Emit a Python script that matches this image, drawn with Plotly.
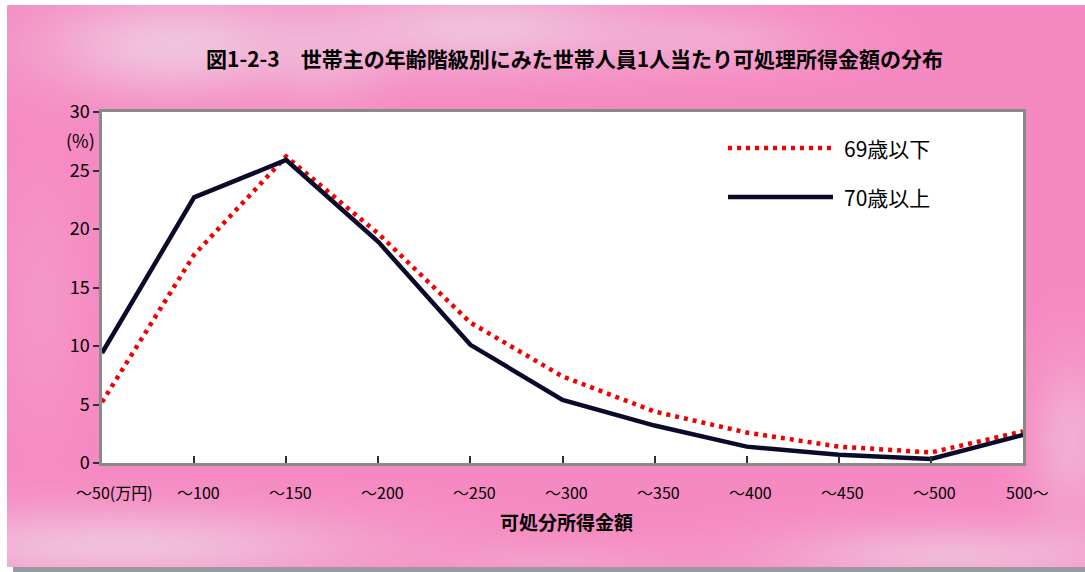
import base64
import struct
import zlib

import numpy as np
import plotly.graph_objects as go

# ---- data -------------------------------------------------------------
categories = ["～50(万円)", "～100", "～150", "～200", "～250", "～300",
              "～350", "～400", "～450", "～500", "500～"]
under69 = [5.2, 17.8, 26.2, 19.6, 12.0, 7.4, 4.4, 2.6, 1.4, 0.9, 2.7]
over70 = [9.4, 22.7, 25.9, 18.9, 10.1, 5.4, 3.2, 1.4, 0.7, 0.35, 2.4]
series_names = ["69歳以下", "70歳以上"]
y_ticks = [0, 5, 10, 15, 20, 25, 30]

title_text = "図1-2-3　世帯主の年齢階級別にみた世帯人員1人当たり可処理所得金額の分布"
x_title = "可処分所得金額"
y_unit = "(%)"

# ---- layout geometry (pixels) -----------------------------------------
W, H = 1085, 572
L, R, T, B = 102, 1023, 112, 463
PW, PH = R - L, B - T
FONT = "Noto Sans CJK JP"


def px_x(p):
    return (p - L) / PW


def px_y(p):
    return (B - p) / PH


# ---- pink backdrop as a smooth gradient image --------------------------
BG_X0, BG_Y0, BG_X1, BG_Y1 = 7, 5, 1085, 567
sc = 2
bw, bh = (BG_X1 - BG_X0) // sc, (BG_Y1 - BG_Y0) // sc
gx, gy = np.meshgrid(np.arange(bw) * sc + BG_X0, np.arange(bh) * sc + BG_Y0)
light = np.zeros((bh, bw))
for cx, cy, rx, ry, s in [
    (170, 45, 130, 50, 0.85), (480, 28, 160, 42, 0.8), (720, 40, 110, 30, 0.4),
    (330, 70, 60, 40, 0.25), (120, 545, 250, 38, 0.8), (950, 555, 180, 32, 0.7),
    (1070, 440, 40, 80, 0.55), (560, 560, 120, 20, 0.25), (40, 300, 40, 120, 0.2),
]:
    light += s * np.exp(-(((gx - cx) / rx) ** 2 + ((gy - cy) / ry) ** 2))
light = np.clip(light, 0, 1)[..., None]
hot = np.array([246, 138, 194], float)
pale = np.array([240, 205, 226], float)
rgb = (hot * (1 - light) + pale * light).astype(np.uint8)


def png_uri(img):
    h, w, _ = img.shape
    raw = b"".join(b"\x00" + img[i].tobytes() for i in range(h))

    def chunk(tag, data):
        c = struct.pack(">I", len(data)) + tag + data
        return c + struct.pack(">I", zlib.crc32(tag + data) & 0xFFFFFFFF)

    png = (b"\x89PNG\r\n\x1a\n"
           + chunk(b"IHDR", struct.pack(">IIBBBBB", w, h, 8, 2, 0, 0, 0))
           + chunk(b"IDAT", zlib.compress(raw, 9))
           + chunk(b"IEND", b""))
    return "data:image/png;base64," + base64.b64encode(png).decode()


# ---- figure -----------------------------------------------------------
xs = list(range(len(categories)))
red_dash = "4px,5px"
navy = "#0a0a2a"

fig = go.Figure()
fig.add_trace(go.Scatter(
    x=xs, y=under69, mode="lines", name=series_names[0],
    line=dict(color="#f00000", width=4.5, dash=red_dash), showlegend=False))
fig.add_trace(go.Scatter(
    x=xs, y=over70, mode="lines", name=series_names[1],
    line=dict(color=navy, width=4.5), showlegend=False))

shapes = [
    # drop shadow under the panel
    dict(type="rect", xref="paper", yref="paper", layer="below",
         x0=px_x(13), x1=px_x(W + 5), y0=px_y(567), y1=px_y(W),
         fillcolor="#9a9aa0", line_width=0),
    # white plotting area above the backdrop image
    dict(type="rect", xref="x domain", yref="y domain", layer="below",
         x0=0, x1=1, y0=0, y1=1, fillcolor="white", line_width=0),
]

# hand-drawn legend samples
leg_rows = [(148, "#f00000", red_dash), (197, navy, "solid")]
annotations = []
for (yy, col, dash), name in zip(leg_rows, series_names):
    shapes.append(dict(type="line", xref="paper", yref="paper",
                       x0=px_x(728), x1=px_x(833), y0=px_y(yy), y1=px_y(yy),
                       line=dict(color=col, width=4.5, dash=dash)))
    annotations.append(dict(xref="paper", yref="paper", x=px_x(842), y=px_y(yy),
                            text=name, showarrow=False, xanchor="left",
                            yanchor="middle", font=dict(size=21, color="black", family=FONT)))

# category labels beneath the axis
for i, lab in enumerate(categories):
    annotations.append(dict(xref="x", yref="paper", x=i, y=px_y(492), text=lab,
                            showarrow=False, xanchor="center", yanchor="middle",
                            xshift=12 if i == 0 else 4,
                            font=dict(size=16, color="black", family=FONT)))

annotations += [
    dict(xref="paper", yref="paper", x=px_x(574), y=px_y(58), text=title_text,
         showarrow=False, xanchor="center", yanchor="middle",
         font=dict(size=21, color="black", family=FONT, weight="bold")),
    dict(xref="paper", yref="paper", x=px_x(566), y=px_y(521), text=x_title,
         showarrow=False, xanchor="center", yanchor="middle",
         font=dict(size=19, color="black", family=FONT, weight="bold")),
    dict(xref="paper", yref="paper", x=px_x(97), y=px_y(140), text=y_unit,
         showarrow=False, xanchor="right", yanchor="middle",
         font=dict(size=18, color="black", family=FONT)),
]

fig.update_layout(
    width=W, height=H,
    margin=dict(l=L, r=W - R, t=T, b=H - B, pad=0),
    paper_bgcolor="white", plot_bgcolor="rgba(0,0,0,0)",
    font=dict(family=FONT, color="black"),
    shapes=shapes, annotations=annotations,
    images=[dict(source=png_uri(rgb), xref="paper", yref="paper",
                 x=px_x(BG_X0), y=px_y(BG_Y0),
                 sizex=(BG_X1 - BG_X0) / PW, sizey=(BG_Y1 - BG_Y0) / PH,
                 xanchor="left", yanchor="top", sizing="stretch", layer="below")],
    xaxis=dict(range=[0, len(categories) - 1], tickvals=xs[1:-1], showticklabels=False,
               ticks="inside", ticklen=7, tickwidth=2, tickcolor="#303030",
               showgrid=False, zeroline=False, showline=True, mirror=True,
               linecolor="#8a8a8a", linewidth=2.5, fixedrange=True),
    yaxis=dict(range=[0, 30], tickvals=y_ticks, ticks="outside", ticklen=6,
               tickwidth=2, tickcolor="#303030", showgrid=False, zeroline=False,
               showline=True, mirror=True, linecolor="#8a8a8a", linewidth=2.5,
               tickfont=dict(size=18, color="black", family=FONT), fixedrange=True),
)

fig.write_html("out.html")
